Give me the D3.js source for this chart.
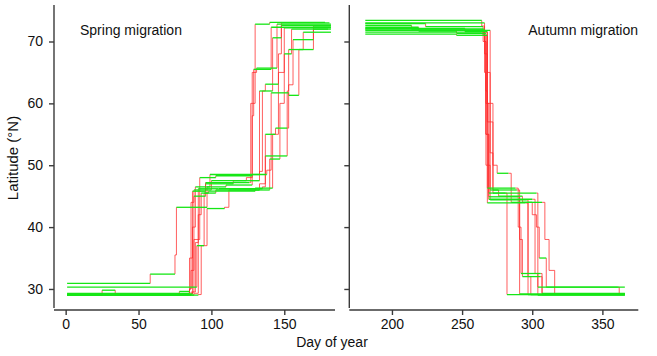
<!DOCTYPE html>
<html><head><meta charset="utf-8">
<script src="https://cdn.jsdelivr.net/npm/d3@7"></script>
<style>body{margin:0;background:#fff}svg{display:block;font-family:"Liberation Sans",Arial,sans-serif}</style>
</head><body>
<svg id="c" width="657" height="356"></svg>
<script>
// Tick labels
const springTicks = [0, 50, 100, 150];
const autumnTicks = [200, 250, 300, 350];
const latTicks = [30, 40, 50, 60, 70];
const panelTitles = ["Spring migration", "Autumn migration"];

// Spring tracks: [day, latitude] step points (value holds until next point)
const spring1 = [[1,30.9],[58,32.4],[75,35.5],[76,43.2],[97,46.5],[110,46.8],[128,58],[129,65.5],[141,72.3],[182,72.3]];
const spring2 = [[1,30.3],[90,37],[95,45.5],[103,46.0],[133,47],[137,51.5],[152,56],[153,63],[156,70.3],[170,72.0],[182,72.0]];
const spring3 = [[1,29.0],[78,29.6],[85,30],[86,44],[88,46],[100,47.5],[124,48],[128,65],[131,65.7],[145,72.8],[182,72.8]];
const spring4 = [[1,29.1],[84,29.3],[85,35],[87,45.8],[96,47],[115,47.5],[133,49],[135,62],[137,63.1],[146,68],[148,73],[181,73]];
const spring5 = [[1,29.0],[25,29.8],[34,29.0],[86,29.2],[87,40],[89,46.5],[99,48.5],[138,49.2],[141,61.7],[153,61.3],[160,68.7],[170,72.5],[182,72.5]];
const spring6 = [[1,29.2],[87,29.5],[89,37.5],[91,46.2],[105,46.2],[135,46.5],[137,55],[144,56],[152,62],[153,68.7],[163,71.5],[182,71.5]];
const spring7 = [[1,29.0],[88,29.3],[91,42],[93,45.5],[98,45.8],[130,46],[140,51],[147,60],[150,68],[155,72],[180,72]];
const spring8 = [[1,29.1],[86,29.5],[88,38],[92,48],[103,48.3],[128,48.5],[133,62],[142,70.6],[148,72.6],[182,72.6]];
const spring9 = [[1,29.0],[91,29.1],[93,37],[97,43],[109,43.2],[112,46],[130,46.3],[142,55],[146,65],[150,72.2],[182,72.2]];
const spring10 = [[1,29.3],[85,30],[86,33],[88,45],[96,47.2],[126,47.2],[127,60],[130,72.8],[140,73.1],[178,73.1]];

// Autumn tracks
const autumn1 = [[181,73.4],[264,72.5],[266,65],[267,55],[268,46.3],[288,46.3],[290,40],[292,32.5],[306,32.5],[307,29.1],[366,29.1]];
const autumn2 = [[181,72.9],[224,72.4],[265,70],[267,60],[269,45.5],[281,45.5],[282,29.1],[366,29.1]];
const autumn3 = [[181,72.6],[214,72.0],[266,68],[268,55],[269,44.9],[290,44.9],[291,38],[293,32.0],[306,32],[307,29.3],[366,29.3]];
const autumn4 = [[181,72.3],[219,71.7],[246,71.3],[267,62],[268,50],[270,44.4],[296,44.4],[297,29.1],[366,29.1]];
const autumn5 = [[181,72.1],[252,71.6],[268,65],[270,52],[272,46],[289,46],[291,29.2],[366,29.2]];
const autumn6 = [[181,71.8],[270,60],[272,50],[275,48.7],[283,48.7],[285,44],[292,44],[300,42],[303,40],[305,35],[310,30.3],[361,30.3],[362,29.1],[366,29.1]];
const autumn7 = [[181,71.5],[264,71.5],[268,57],[272,45.5],[303,45.5],[304,30.3],[366,30.3]];
const autumn8 = [[181,71.2],[246,71.0],[268,60],[270,46],[276,45],[293,44],[307,44],[309,38],[312,33],[316,29.2],[366,29.2]];
const autumn9 = [[181,73.0],[266,70],[267,50],[268,43.9],[295,43.9],[297,32],[299,29.1],[366,29.1]];
const autumn10 = [[181,72.0],[265,71],[267,55],[269,44.5],[300,44.5],[302,32.5],[304,29.0],[366,29.0]];

const springTracks = [spring1,spring2,spring3,spring4,spring5,spring6,spring7,spring8,spring9,spring10];
const autumnTracks = [autumn1,autumn2,autumn3,autumn4,autumn5,autumn6,autumn7,autumn8,autumn9,autumn10];

const svg = d3.select("#c");
const axisCol = "#3a3a3a";
const y = d3.scaleLinear().domain([26.6, 75.9]).range([310, 5]);
const xS = d3.scaleLinear().domain([-8, 184.8]).range([54, 335]);
const xA = d3.scaleLinear().domain([169.6, 375.6]).range([349.3, 638.3]);

function drawPanel(x, tracks, ticks, showLabels, title, titleX, anchor) {
  const g = svg.append("g");
  const red = [], green = [];
  tracks.forEach(t => {
    for (let i = 0; i < t.length - 1; i++) {
      const [d0, l0] = t[i], [d1, l1] = t[i + 1];
      (d1 - d0 >= 5 ? green : red).push([[d0, l0], [d1, l0]]);
      red.push([[d1, l0], [d1, l1]]);
    }
  });
  const line = d3.line().x(d => x(d[0])).y(d => y(d[1]));
  g.selectAll(".r").data(red).join("path").attr("d", line)
    .attr("fill", "none").attr("stroke", "#ff2a2a").attr("stroke-width", 1).attr("stroke-opacity", 0.75);
  g.selectAll(".g").data(green).join("path").attr("d", line)
    .attr("fill", "none").attr("stroke", "#16e616").attr("stroke-width", 1.3);

  // x axis
  const xa = g.append("g").attr("transform", "translate(0,310)")
    .call(d3.axisBottom(x).tickValues(ticks).tickSize(5).tickPadding(4).tickSizeOuter(0));
  xa.select(".domain").attr("d", `M${x.range()[0]},0H${x.range()[1]}`);
  // y axis
  const ya = g.append("g").attr("transform", `translate(${x.range()[0]},0)`)
    .call(d3.axisLeft(y).tickValues(latTicks).tickSize(5).tickPadding(6).tickSizeOuter(0));
  ya.select(".domain").attr("d", `M0,5V308`);
  if (!showLabels) ya.selectAll("text").remove();
  [xa, ya].forEach(a => {
    a.selectAll("path,line").attr("stroke", axisCol).attr("stroke-width", 1.4);
    a.selectAll("text").attr("font-size", 14).attr("fill", "#111").attr("font-family", "Liberation Sans, Arial, sans-serif");
  });
  g.append("text").attr("x", titleX).attr("y", 35).attr("text-anchor", anchor)
    .attr("font-size", 14).attr("fill", "#111").text(title);
}

drawPanel(xS, springTracks, springTicks, true, panelTitles[0], 80, "start");
drawPanel(xA, autumnTracks, autumnTicks, false, panelTitles[1], 638, "end");

svg.append("text").attr("x", 332).attr("y", 347).attr("text-anchor", "middle")
  .attr("font-size", 14).attr("fill", "#111").text("Day of year");
svg.append("text").attr("transform", "translate(18,158) rotate(-90)").attr("text-anchor", "middle")
  .attr("font-size", 15).attr("fill", "#111").text("Latitude (°N)");
</script>
</body></html>
